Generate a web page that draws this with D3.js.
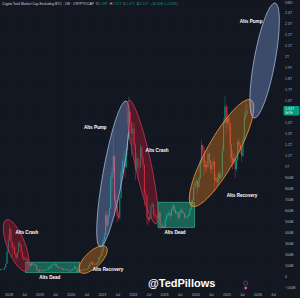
<!DOCTYPE html>
<html><head><meta charset="utf-8">
<script src="https://cdn.jsdelivr.net/npm/d3@7"></script>
<style>html,body{margin:0;padding:0;background:#131722;overflow:hidden}svg{display:block}</style>
</head><body><svg id="c" width="300" height="298"></svg>
<script>
// ---- DATA (billions USD), semi-monthly candles [close, high, low]; open = previous close
const firstOpen = 70;
const c2017 = [[62,80,55],[68,72,58],[70,75,65],[68,75,62],[85,90,65],[120,125,85],[230,250,120],[340,380,220]];
const c2018 = [[440,480,330],[320,430,270],[270,320,180],[270,300,240],[210,290,200],[175,220,160],[220,230,160],[310,320,210],[290,330,270],[230,300,220],[180,235,170],[160,185,145],[170,180,150],[160,185,150],[115,165,105],[120,125,100],[105,125,90],[125,135,100],[115,128,105],[112,118,108],[105,118,100],[65,105,55],[50,65,45],[65,75,48]];
const c2019 = [[60,68,55],[55,62,52],[57,60,53],[65,72,56],[66,70,62],[70,73,64],[85,95,70],[80,88,76],[105,115,80],[110,118,100],[115,120,105],[120,135,105],[100,125,90],[90,100,82],[85,95,78],[80,88,75],[82,86,77],[65,82,60],[68,72,62],[72,80,64],[70,74,66],[58,70,54],[55,60,50],[55,58,50]];
const c2020 = [[68,72,54],[75,80,66],[95,100,74],[78,95,75],[45,78,38],[52,56,42],[55,60,50],[65,70,54],[62,68,58],[68,72,60],[70,74,66],[68,72,64],[75,78,67],[100,105,74],[125,130,98],[135,145,120],[115,135,105],[120,125,108],[118,124,112],[120,128,110],[140,145,115],[180,200,138],[190,200,170],[230,250,185]];
const c2021 = [[340,360,230],[380,400,290],[560,600,380],[470,600,430],[560,580,460],[620,640,540],[900,920,620],[950,1000,800],[1100,1350,900],[700,1100,550],[650,750,600],[560,650,500],[540,600,520],[720,740,520],[950,980,710],[1050,1080,930],[1050,1150,950],[1000,1060,900],[1150,1180,990],[1250,1300,1100],[1500,1650,1250],[1400,1520,1300],[1300,1420,1100],[1350,1400,1200]];
const c2022 = [[1200,1400,1150],[980,1220,880],[1080,1130,960],[1000,1080,880],[1000,1050,950],[1180,1220,990],[1080,1190,1050],[1020,1100,980],[760,1030,640],[740,790,700],[540,750,480],[520,560,470],[540,560,500],[640,660,530],[660,690,630],[570,670,550],[560,610,530],[550,570,520],[540,560,520],[580,600,535],[470,600,430],[460,480,440],[465,490,450],[450,470,440]];
const c2023 = [[520,530,450],[560,580,510],[560,590,540],[580,610,550],[560,590,520],[610,630,550],[650,670,600],[610,660,590],[580,620,570],[590,600,575],[540,595,520],[580,590,530],[610,630,570],[590,615,580],[580,600,570],[540,580,525],[545,560,530],[550,565,535],[560,575,540],[610,630,555],[680,700,600],[700,720,660],[820,850,690],[850,880,800]];
const c2024 = [[870,900,800],[820,880,760],[900,920,810],[1050,1080,890],[1200,1250,1030],[1150,1200,1050],[1000,1180,920],[1020,1060,960],[1000,1050,950],[1120,1150,990],[1060,1130,1030],[980,1060,940],[1020,1040,940],[1050,1090,1000],[880,1050,780],[900,930,860],[860,910,830],[940,960,850],[900,950,880],[930,960,890],[1150,1200,920],[1400,1450,1140],[1550,1650,1380],[1400,1570,1300]];
const c2025 = [[1450,1550,1350],[1400,1480,1330],[1200,1400,1050],[1080,1220,1000],[1050,1150,980],[1080,1120,1020],[980,1080,900],[1060,1080,960],[1230,1260,1050],[1200,1260,1150],[1170,1230,1120],[1100,1180,1040],[1250,1280,1090],[1450,1500,1240],[1480,1600,1420],[1510,1570,1470]];

const yTicks = d3.range(-100, 2401, 100);
const xTickLabels = ["2018","Jul","2019","Jul","2020","Jul","2021","Jul","2022","Jul","2023","Jul","2024","Jul","2025","Jul","2026","Jul"];

// annotation zones in data coordinates
const ellipseZones = [
  {id:"crash18", kind:"crash", from:["2017-12-01",520], to:["2018-07-20",55]},
  {id:"rec20",   kind:"rec",   from:["2020-04-14",45],  to:["2021-02-14",273]},
  {id:"pump21",  kind:"pump",  from:["2020-12-04",273], to:["2021-10-05",1600]},
  {id:"crash22", kind:"crash", from:["2021-11-10",1609],to:["2022-09-23",482]},
  {id:"rec24",   kind:"rec",   from:["2023-11-19",645], to:["2025-10-12",1609]},
  {id:"pump26",  kind:"pump",  from:["2025-11-16",1445],to:["2026-07-21",2491]}
];
const rectZones = [
  {id:"dead19", from:["2018-07-15",135], to:["2020-04-10",40]},
  {id:"dead23", from:["2022-10-15",680], to:["2023-12-20",450]}
];
const zoneLabels = [
  {text:"Alts Crash",    at:["2018-07-30",400]},
  {text:"Alts Dead",     at:["2019-04-25",-5]},
  {text:"Alts Recovery", at:["2021-03-08",64]},
  {text:"Alts Pump",     at:["2020-10-10",1355]},
  {text:"Alts Crash",    at:["2022-10-05",1145]},
  {text:"Alts Dead",     at:["2023-05-04",400]},
  {text:"Alts Recovery", at:["2025-06-28",736]},
  {text:"Alts Pump",     at:["2025-10-12",2318]}
];

// ---- styles
const ellipseHalfWidth = {crash18:9, rec20:8, pump21:10, crash22:8, rec24:15, pump26:10.5};
const zoneStyle = {
  crash:{fill:"rgba(175,28,52,0.42)", stroke:"#cc3a4e"},
  rec:{fill:"rgba(210,118,30,0.42)", stroke:"#eea040"},
  pump:{fill:"rgba(125,160,222,0.38)", stroke:"#a6c0e6"},
  dead:{fill:"rgba(38,190,150,0.45)", stroke:"rgba(60,210,170,0.8)"}
};
const UP="#089981", DOWN="#f23645", TXT="#b2b5be";

const parse = d3.utcParse("%Y-%m-%d");
const svg = d3.select("#c");
const x = d3.scaleUtc().domain([parse("2018-01-01"), parse("2026-01-01")]).range([9,258]);
const y = d3.scaleLinear().domain([0,2000]).range([277,57]);

// grid
const xTickDates = d3.utcMonth.every(6).range(parse("2018-01-01"), parse("2026-07-02"));
svg.append("g").selectAll("line").data(yTicks).join("line")
  .attr("x1",0).attr("x2",280).attr("y1",d=>y(d)).attr("y2",d=>y(d))
  .attr("stroke","#181c27").attr("stroke-width",0.6);
svg.append("g").selectAll("line").data(xTickDates).join("line")
  .attr("y1",8).attr("y2",291).attr("x1",d=>x(d)).attr("x2",d=>x(d))
  .attr("stroke","#181c27").attr("stroke-width",0.6);

// candles
const all = [].concat(c2017,c2018,c2019,c2020,c2021,c2022,c2023,c2024,c2025);
const candles = all.map((v,i)=>{
  const start = new Date(Date.UTC(2017, 8 + Math.floor(i/2), i%2 ? 16 : 1));
  const end = new Date(Date.UTC(2017, 8 + Math.floor((i+1)/2), (i+1)%2 ? 16 : 1));
  const open = i===0 ? firstOpen : all[i-1][0];
  return {start, end, o:open, c:v[0], h:v[1], l:v[2]};
});
const cg = svg.append("g");
candles.forEach(d=>{
  const cx = (x(d.start)+x(d.end))/2;
  const col = d.c>=d.o ? UP : DOWN;
  cg.append("line").attr("x1",cx).attr("x2",cx).attr("y1",y(d.h)).attr("y2",y(d.l))
    .attr("stroke",col).attr("stroke-width",0.4);
  const top = y(Math.max(d.o,d.c)), bot = y(Math.min(d.o,d.c));
  cg.append("rect").attr("x",cx-0.45).attr("width",0.9)
    .attr("y",top).attr("height",Math.max(0.5,bot-top)).attr("fill",col);
});

// zones
const zg = svg.append("g");
rectZones.forEach(z=>{
  const x1=x(parse(z.from[0])), x2=x(parse(z.to[0])), y1=y(z.from[1]), y2=y(z.to[1]);
  zg.append("rect").attr("x",Math.min(x1,x2)).attr("y",Math.min(y1,y2))
    .attr("width",Math.abs(x2-x1)).attr("height",Math.abs(y2-y1))
    .attr("fill",zoneStyle.dead.fill).attr("stroke",zoneStyle.dead.stroke).attr("stroke-width",0.6);
});
ellipseZones.forEach(z=>{
  const x1=x(parse(z.from[0])), y1=y(z.from[1]), x2=x(parse(z.to[0])), y2=y(z.to[1]);
  const cx=(x1+x2)/2, cy=(y1+y2)/2, rx=Math.hypot(x2-x1,y2-y1)/2;
  const ang=Math.atan2(y2-y1,x2-x1)*180/Math.PI;
  const st=zoneStyle[z.kind];
  zg.append("ellipse").attr("cx",cx).attr("cy",cy).attr("rx",rx).attr("ry",ellipseHalfWidth[z.id])
    .attr("transform",`rotate(${ang} ${cx} ${cy})`)
    .attr("fill",st.fill).attr("stroke",st.stroke).attr("stroke-width",0.7);
});
svg.append("g").selectAll("text").data(zoneLabels).join("text")
  .attr("x",d=>x(parse(d.at[0]))).attr("y",d=>y(d.at[1]))
  .attr("text-anchor","middle").attr("dominant-baseline","middle")
  .attr("font-family","Liberation Sans, Arial, sans-serif").attr("font-weight","bold")
  .attr("font-size",4.6).attr("fill","#ffffff").text(d=>d.text);

// right price axis
const fmt = v => v===0 ? "0" : (Math.abs(v)>=1000 ? (v/1000)+"T" : (v<0?"\u2212"+(-v):v)+"B");
const last = candles[candles.length-1];
svg.append("g").selectAll("text").data(yTicks.filter(v=>Math.abs(y(v)-y(last.c))>6)).join("text")
  .attr("x",285).attr("y",d=>y(d)).attr("dominant-baseline","middle")
  .attr("font-family","Liberation Sans, Arial, sans-serif").attr("font-size",3.6)
  .attr("fill",TXT).text(fmt);
svg.append("text").attr("x",285).attr("y",3.5).attr("dominant-baseline","middle")
  .attr("font-family","Liberation Sans, Arial, sans-serif").attr("font-size",3.6)
  .attr("fill",TXT).text("USD");
// current price label
const py = y(last.c);
svg.append("rect").attr("x",283.5).attr("y",py-5).attr("width",16).attr("height",9.5)
  .attr("rx",0.8).attr("fill",UP);
svg.append("text").attr("x",285).attr("y",py-2).attr("dominant-baseline","middle")
  .attr("font-family","Liberation Sans, Arial, sans-serif").attr("font-size",3.6).attr("fill","#fff")
  .text((last.c/1000).toFixed(2)+"T");
svg.append("text").attr("x",285).attr("y",py+2.4).attr("dominant-baseline","middle")
  .attr("font-family","Liberation Sans, Arial, sans-serif").attr("font-size",3.1).attr("fill","#e6fff7")
  .text("3d 9h");

// x axis labels
svg.append("g").selectAll("text").data(xTickDates).join("text")
  .attr("x",d=>x(d)).attr("y",295).attr("text-anchor","middle").attr("dominant-baseline","middle")
  .attr("font-family","Liberation Sans, Arial, sans-serif").attr("font-size",3.6)
  .attr("fill",TXT).text((d,i)=>xTickLabels[i]);

// header legend
const chg = last.c-last.o;
const hdr = svg.append("text").attr("x",2).attr("y",4).attr("dominant-baseline","middle")
  .attr("font-family","Liberation Sans, Arial, sans-serif").attr("font-size",3.4);
hdr.append("tspan").attr("fill","#d1d4dc").text("Crypto Total Market Cap Excluding BTC · 1W · CRYPTOCAP");
const lv=[["O",last.o],["H",last.h],["L",last.l],["C",last.c]];
lv.forEach(([k,v])=>{
  hdr.append("tspan").attr("fill","#d1d4dc").attr("dx",2).text(k);
  hdr.append("tspan").attr("fill",UP).attr("dx",0.6).text((v/1000).toFixed(2)+"T");
});
hdr.append("tspan").attr("fill",UP).attr("dx",2)
  .text("+"+chg.toFixed(2)+"B (+"+(chg/last.o*100).toFixed(2)+"%)");

// event marker near axis
svg.append("circle").attr("cx",x(parse("2025-08-10"))).attr("cy",283).attr("r",2)
  .attr("fill","none").attr("stroke","#7d5a9c").attr("stroke-width",0.6);
svg.append("circle").attr("cx",x(parse("2025-08-10"))).attr("cy",288).attr("r",1.4)
  .attr("fill","#e0569a");

// watermark
svg.append("text").attr("x",148).attr("y",287)
  .attr("font-family","Liberation Sans, Arial, sans-serif").attr("font-weight","bold")
  .attr("font-size",11).attr("fill","#ffffff").text("@TedPillows");
</script>
</body></html>
